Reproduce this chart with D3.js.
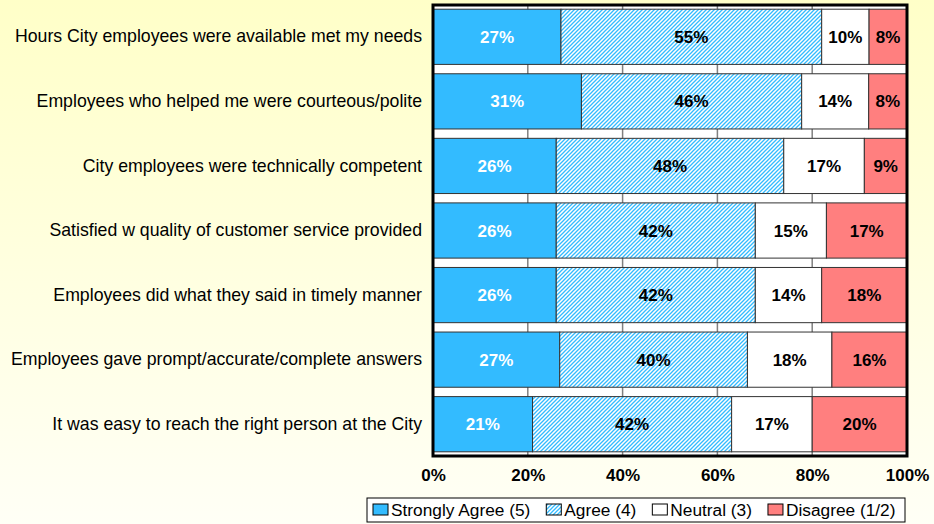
<!DOCTYPE html>
<html><head><meta charset="utf-8">
<script src="https://cdn.jsdelivr.net/npm/d3@7/dist/d3.min.js"></script>
<style>html,body{margin:0;padding:0;overflow:hidden;}svg{display:block;}</style>
</head><body>
<svg id="chart" width="934" height="524"></svg>
<script>
const categories = [
  "Hours City employees were available met my needs",
  "Employees who helped me were courteous/polite",
  "City employees were technically competent",
  "Satisfied w quality of customer service provided",
  "Employees did what they said in timely manner",
  "Employees gave prompt/accurate/complete answers",
  "It was easy to reach the right person at the City"
];
const seriesNames = ["Strongly Agree (5)", "Agree (4)", "Neutral (3)", "Disagree (1/2)"];
const stronglyAgree = [27, 31, 26, 26, 26, 27, 21];
const agree         = [55, 46, 48, 42, 42, 40, 42];
const neutral       = [10, 14, 17, 15, 14, 18, 17];
const disagree      = [8, 8, 9, 17, 18, 16, 20];
const tickValues = [0, 0.2, 0.4, 0.6, 0.8, 1.0];
const tickLabels = ["0%", "20%", "40%", "60%", "80%", "100%"];

const keys = ["sa", "ag", "ne", "di"];
const rows = categories.map((c, i) => ({cat: c, sa: stronglyAgree[i], ag: agree[i], ne: neutral[i], di: disagree[i]}));

const svg = d3.select("#chart");
const W = 934, H = 524;
const FONT = "'Liberation Sans', Arial, sans-serif";

const defs = svg.append("defs");
const grad = defs.append("linearGradient").attr("id", "bg").attr("x1", 0).attr("y1", 0).attr("x2", 0).attr("y2", 1);
grad.append("stop").attr("offset", "0%").attr("stop-color", "#FFFFC8");
grad.append("stop").attr("offset", "100%").attr("stop-color", "#FFFFF6");
const pat = defs.append("pattern").attr("id", "hatch").attr("patternUnits", "userSpaceOnUse")
  .attr("width", 4).attr("height", 4);
pat.append("rect").attr("width", 4).attr("height", 4).attr("fill", "#ffffff");
pat.append("path").attr("d", "M-1,1 l2,-2 M0,4 l4,-4 M3,5 l2,-2").attr("stroke", "#33BBFF").attr("stroke-width", 1.3);

svg.append("rect").attr("width", W).attr("height", H).attr("fill", "url(#bg)");

const plot = {left: 433, right: 907, top: 5, bottom: 456};
const x = d3.scaleLinear().domain([0, 1]).range([plot.left, plot.right]);
const y = d3.scaleBand().domain(categories).range([plot.top, plot.bottom]).paddingInner(0.145).paddingOuter(0.065);

const colors = {sa: "#33BBFF", ag: "url(#hatch)", ne: "#FFFFFF", di: "#FF7F7F"};

svg.append("rect").attr("x", plot.left).attr("y", plot.top).attr("width", plot.right - plot.left).attr("height", plot.bottom - plot.top)
  .attr("fill", "#ffffff");

svg.append("g").selectAll("line").data(tickValues.slice(1, -1)).join("line")
  .attr("x1", d => x(d)).attr("x2", d => x(d)).attr("y1", plot.top).attr("y2", plot.bottom)
  .attr("stroke", "#808080").attr("stroke-width", 1.5);

const stack = d3.stack().keys(keys).offset(d3.stackOffsetExpand);
const stacked = stack(rows);

const g = svg.append("g");
stacked.forEach(layer => {
  const k = layer.key;
  g.append("g").selectAll("rect").data(layer).join("rect")
    .attr("x", d => x(d[0]))
    .attr("y", d => y(d.data.cat))
    .attr("width", d => x(d[1]) - x(d[0]))
    .attr("height", y.bandwidth())
    .attr("fill", colors[k])
    .attr("stroke", "#333333").attr("stroke-width", 1);
  g.append("g").selectAll("text").data(layer).join("text")
    .attr("x", d => (x(d[0]) + x(d[1])) / 2)
    .attr("y", d => y(d.data.cat) + y.bandwidth() / 2)
    .attr("dy", "0.36em")
    .attr("text-anchor", "middle")
    .attr("font-family", FONT).attr("font-weight", "bold").attr("font-size", 17)
    .attr("fill", k === "sa" ? "#ffffff" : "#000000")
    .text(d => d.data[k] + "%");
});

svg.append("rect").attr("x", plot.left).attr("y", plot.top).attr("width", plot.right - plot.left).attr("height", plot.bottom - plot.top)
  .attr("fill", "none").attr("stroke", "#000").attr("stroke-width", 3);

const yAxis = d3.axisLeft(y).tickSize(0).tickPadding(11);
const ya = svg.append("g").attr("transform", `translate(${plot.left},0)`).call(yAxis);
ya.select(".domain").remove();
ya.selectAll("text").attr("font-family", FONT).attr("font-size", 17.7).attr("fill", "#000");

const xAxis = d3.axisBottom(x).tickValues(tickValues).tickFormat((d, i) => tickLabels[i]).tickSize(0).tickPadding(13);
const xa = svg.append("g").attr("transform", `translate(0,${plot.bottom})`).call(xAxis);
xa.select(".domain").remove();
xa.selectAll("text").attr("font-family", FONT).attr("font-size", 17).attr("font-weight", "bold").attr("fill", "#000");

const lg = svg.append("g");
const lgBox = lg.append("rect").attr("y", 498).attr("height", 24).attr("fill", "#ffffff").attr("stroke", "#000").attr("stroke-width", 1);
let cx = 373;
keys.forEach((k, i) => {
  lg.append("rect").attr("x", cx).attr("y", 504).attr("width", 15).attr("height", 11)
    .attr("fill", colors[k]).attr("stroke", "#000").attr("stroke-width", 1);
  const t = lg.append("text").attr("x", cx + 18).attr("y", 516)
    .attr("font-family", FONT).attr("font-size", 17.3).attr("fill", "#000").text(seriesNames[i]);
  cx = cx + 18 + t.node().getComputedTextLength() + 16;
});
lgBox.attr("x", 367).attr("width", 905 - 367);
</script>
</body></html>
